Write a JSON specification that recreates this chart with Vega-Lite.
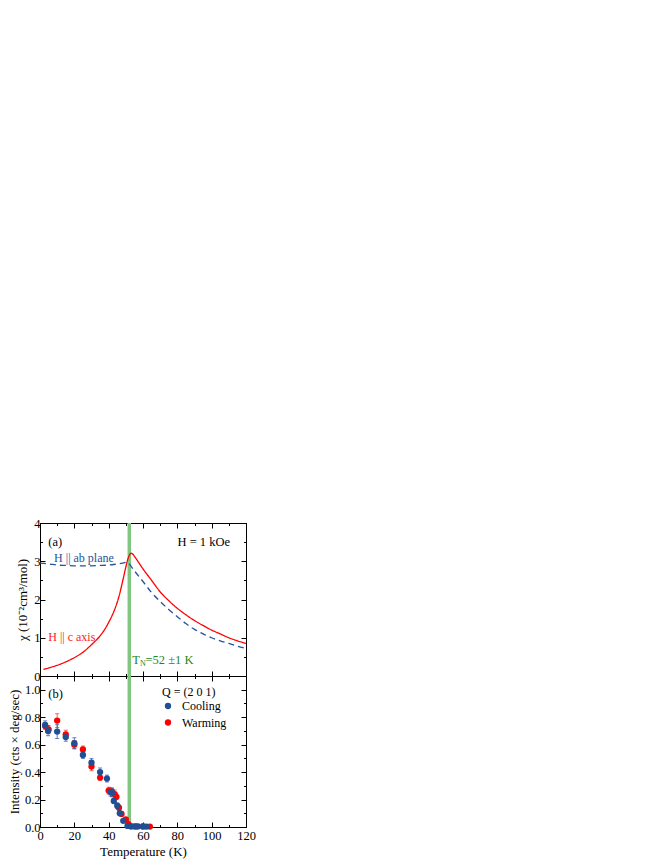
{
  "$schema": "https://vega.github.io/schema/vega-lite/v6.json",
  "background": "white",
  "padding": {"left": 7, "top": 516, "right": 5, "bottom": 0},
  "spacing": 0,
  "bounds": "flush",
  "resolve": {"scale": {"color": "independent", "strokeDash": "independent"}, "legend": {"color": "independent", "strokeDash": "independent"}},
  "config": {
    "font": "Liberation Serif",
    "view": {"stroke": "black", "strokeWidth": 1},
    "axis": {
      "domainColor": "black", "tickColor": "black", "labelColor": "black", "titleColor": "black",
      "labelFontSize": 12.5, "titleFontSize": 13, "titleFontWeight": "normal",
      "grid": false, "labelOverlap": false, "labelFlush": false, "labelBound": false,
      "domainWidth": 1, "tickWidth": 1
    },
    "legend": {"titleFontWeight": "normal"}
  },
  "datasets": {
    "chi": [
      {"T": 2, "chi": 0.17, "dir": "c"}, {"T": 5, "chi": 0.21, "dir": "c"}, {"T": 10, "chi": 0.28, "dir": "c"},
      {"T": 15, "chi": 0.37, "dir": "c"}, {"T": 20, "chi": 0.48, "dir": "c"}, {"T": 25, "chi": 0.62, "dir": "c"},
      {"T": 30, "chi": 0.82, "dir": "c"}, {"T": 35, "chi": 1.05, "dir": "c"}, {"T": 38, "chi": 1.24, "dir": "c"},
      {"T": 40, "chi": 1.4, "dir": "c"}, {"T": 42, "chi": 1.58, "dir": "c"}, {"T": 44, "chi": 1.8, "dir": "c"},
      {"T": 46, "chi": 2.08, "dir": "c"}, {"T": 48, "chi": 2.45, "dir": "c"}, {"T": 50, "chi": 2.85, "dir": "c"},
      {"T": 51, "chi": 3.03, "dir": "c"}, {"T": 52, "chi": 3.15, "dir": "c"}, {"T": 53, "chi": 3.21, "dir": "c"},
      {"T": 54, "chi": 3.19, "dir": "c"}, {"T": 55, "chi": 3.13, "dir": "c"}, {"T": 57, "chi": 3.0, "dir": "c"},
      {"T": 60, "chi": 2.8, "dir": "c"}, {"T": 65, "chi": 2.5, "dir": "c"}, {"T": 70, "chi": 2.2, "dir": "c"},
      {"T": 75, "chi": 1.97, "dir": "c"}, {"T": 80, "chi": 1.77, "dir": "c"}, {"T": 85, "chi": 1.6, "dir": "c"},
      {"T": 90, "chi": 1.45, "dir": "c"}, {"T": 95, "chi": 1.32, "dir": "c"}, {"T": 100, "chi": 1.2, "dir": "c"},
      {"T": 105, "chi": 1.1, "dir": "c"}, {"T": 110, "chi": 1.0, "dir": "c"}, {"T": 115, "chi": 0.92, "dir": "c"},
      {"T": 120, "chi": 0.85, "dir": "c"},
      {"T": 0, "chi": 2.95, "dir": "ab"}, {"T": 5, "chi": 2.93, "dir": "ab"}, {"T": 10, "chi": 2.9, "dir": "ab"},
      {"T": 15, "chi": 2.89, "dir": "ab"}, {"T": 20, "chi": 2.88, "dir": "ab"}, {"T": 25, "chi": 2.88, "dir": "ab"},
      {"T": 30, "chi": 2.88, "dir": "ab"}, {"T": 35, "chi": 2.89, "dir": "ab"}, {"T": 40, "chi": 2.9, "dir": "ab"},
      {"T": 45, "chi": 2.93, "dir": "ab"}, {"T": 48, "chi": 2.95, "dir": "ab"}, {"T": 50, "chi": 2.97, "dir": "ab"},
      {"T": 51, "chi": 2.97, "dir": "ab"}, {"T": 52, "chi": 2.93, "dir": "ab"}, {"T": 53, "chi": 2.87, "dir": "ab"},
      {"T": 55, "chi": 2.75, "dir": "ab"}, {"T": 58, "chi": 2.58, "dir": "ab"}, {"T": 60, "chi": 2.47, "dir": "ab"},
      {"T": 65, "chi": 2.18, "dir": "ab"}, {"T": 70, "chi": 1.95, "dir": "ab"}, {"T": 75, "chi": 1.74, "dir": "ab"},
      {"T": 80, "chi": 1.55, "dir": "ab"}, {"T": 85, "chi": 1.37, "dir": "ab"}, {"T": 90, "chi": 1.22, "dir": "ab"},
      {"T": 95, "chi": 1.1, "dir": "ab"}, {"T": 100, "chi": 1.0, "dir": "ab"}, {"T": 105, "chi": 0.92, "dir": "ab"},
      {"T": 110, "chi": 0.85, "dir": "ab"}, {"T": 115, "chi": 0.78, "dir": "ab"}, {"T": 120, "chi": 0.72, "dir": "ab"}
    ],
    "neutron": [
      {"T": 3, "I": 0.735, "err": 0.02, "series": "Warming"},
      {"T": 5, "I": 0.71, "err": 0.03, "series": "Warming"},
      {"T": 10, "I": 0.775, "err": 0.05, "series": "Warming"},
      {"T": 15, "I": 0.675, "err": 0.03, "series": "Warming"},
      {"T": 20, "I": 0.6, "err": 0.03, "series": "Warming"},
      {"T": 25, "I": 0.565, "err": 0.025, "series": "Warming"},
      {"T": 30, "I": 0.44, "err": 0.03, "series": "Warming"},
      {"T": 35, "I": 0.36, "err": 0.02, "series": "Warming"},
      {"T": 40, "I": 0.265, "err": 0.025, "series": "Warming"},
      {"T": 42, "I": 0.255, "err": 0.03, "series": "Warming"},
      {"T": 43.5, "I": 0.24, "err": 0.03, "series": "Warming"},
      {"T": 44.5, "I": 0.22, "err": 0.02, "series": "Warming"},
      {"T": 46, "I": 0.14, "err": 0.02, "series": "Warming"},
      {"T": 47.5, "I": 0.095, "err": 0.015, "series": "Warming"},
      {"T": 50, "I": 0.055, "err": 0.01, "series": "Warming"},
      {"T": 51.5, "I": 0.02, "err": 0.008, "series": "Warming"},
      {"T": 53, "I": 0.005, "err": 0.005, "series": "Warming"},
      {"T": 56, "I": 0.004, "err": 0.004, "series": "Warming"},
      {"T": 60, "I": 0.004, "err": 0.004, "series": "Warming"},
      {"T": 64, "I": 0.003, "err": 0.003, "series": "Warming"},
      {"T": 3, "I": 0.743, "err": 0.03, "series": "Cooling"},
      {"T": 4.7, "I": 0.7, "err": 0.035, "series": "Cooling"},
      {"T": 10, "I": 0.695, "err": 0.05, "series": "Cooling"},
      {"T": 15, "I": 0.655, "err": 0.03, "series": "Cooling"},
      {"T": 20, "I": 0.61, "err": 0.04, "series": "Cooling"},
      {"T": 25, "I": 0.525, "err": 0.025, "series": "Cooling"},
      {"T": 30, "I": 0.468, "err": 0.03, "series": "Cooling"},
      {"T": 35, "I": 0.4, "err": 0.03, "series": "Cooling"},
      {"T": 39, "I": 0.353, "err": 0.025, "series": "Cooling"},
      {"T": 41, "I": 0.255, "err": 0.03, "series": "Cooling"},
      {"T": 42, "I": 0.25, "err": 0.03, "series": "Cooling"},
      {"T": 43, "I": 0.19, "err": 0.02, "series": "Cooling"},
      {"T": 45, "I": 0.155, "err": 0.02, "series": "Cooling"},
      {"T": 46.5, "I": 0.1, "err": 0.015, "series": "Cooling"},
      {"T": 48.5, "I": 0.045, "err": 0.01, "series": "Cooling"},
      {"T": 51, "I": 0.008, "err": 0.006, "series": "Cooling"},
      {"T": 53, "I": 0.005, "err": 0.005, "series": "Cooling"},
      {"T": 55, "I": 0.004, "err": 0.004, "series": "Cooling"},
      {"T": 57, "I": 0.004, "err": 0.004, "series": "Cooling"},
      {"T": 60, "I": 0.004, "err": 0.004, "series": "Cooling"},
      {"T": 62, "I": 0.003, "err": 0.003, "series": "Cooling"}
    ],
    "notesA": [
      {"tx": 4.8, "ty": 3.51, "label": "(a)", "kind": "black", "align": "left"},
      {"tx": 110.7, "ty": 3.51, "label": "H = 1 kOe", "kind": "black", "align": "right"},
      {"tx": 8.2, "ty": 3.09, "label": "H || ab plane", "kind": "blue", "align": "left"},
      {"tx": 4.8, "ty": 1.03, "label": "H || c axis", "kind": "red", "align": "left"},
      {"tx": 53.8, "ty": 0.42, "label": "T", "kind": "green", "align": "left"}
    ],
    "band": [{"T0": 51, "T1": 53}]
  },
  "vconcat": [
    {
      "width": 206,
      "height": 153,
      "resolve": {"axis": {"x": "independent", "y": "independent"}},
      "layer": [
        {
          "data": {"name": "band"},
          "mark": {"type": "rect", "color": "#80c680"},
          "encoding": {
            "x": {"field": "T0", "type": "quantitative", "scale": {"domain": [0, 120], "nice": false}, "axis": null},
            "x2": {"field": "T1"}
          }
        },
        {
          "data": {"name": "chi"},
          "mark": {"type": "line", "strokeWidth": 1.3, "interpolate": "monotone"},
          "encoding": {
            "x": {"field": "T", "type": "quantitative", "scale": {"domain": [0, 120], "nice": false},
              "axis": {"orient": "bottom", "title": null, "values": [0,10,20,30,40,50,60,70,80,90,100,110,120], "labels": false,
                "tickSize": {"condition": {"test": "datum.value % 20 === 0", "value": -5}, "value": -2.5}}},
            "y": {"field": "chi", "type": "quantitative", "scale": {"domain": [0, 4], "nice": false},
              "axis": {"orient": "left", "title": "χ (10⁻²cm³/mol)", "values": [0,0.5,1,1.5,2,2.5,3,3.5,4], "labelPadding": 5, "titlePadding": 4,
                "labelExpr": "datum.value % 1 === 0 ? format(datum.value, 'd') : ''",
                "tickSize": {"condition": {"test": "datum.value % 1 === 0", "value": -5}, "value": -2.5}}},
            "color": {"field": "dir", "type": "nominal", "scale": {"domain": ["c", "ab"], "range": ["#ff0000", "#25539e"]}, "legend": null},
            "strokeDash": {"field": "dir", "type": "nominal", "scale": {"domain": ["c", "ab"], "range": [[1, 0], [6, 4]]}, "legend": null}
          }
        },
        {
          "data": {"name": "chi"},
          "mark": {"type": "point", "opacity": 0},
          "encoding": {
            "x": {"field": "T", "type": "quantitative",
              "axis": {"orient": "top", "title": null, "values": [0,10,20,30,40,50,60,70,80,90,100,110,120], "labels": false,
                "tickSize": {"condition": {"test": "datum.value % 20 === 0", "value": -5}, "value": -2.5}}},
            "y": {"field": "chi", "type": "quantitative",
              "axis": {"orient": "right", "title": null, "values": [0,0.5,1,1.5,2,2.5,3,3.5,4], "labels": false,
                "tickSize": {"condition": {"test": "datum.value % 1 === 0", "value": -5}, "value": -2.5}}}
          }
        },
        {
          "data": {"name": "notesA"},
          "transform": [{"filter": "datum.kind === 'black' && datum.align === 'left'"}],
          "mark": {"type": "text", "align": "left", "baseline": "middle", "fontSize": 12.5, "color": "black"},
          "encoding": {
            "x": {"field": "tx", "type": "quantitative", "axis": null},
            "y": {"field": "ty", "type": "quantitative", "axis": null},
            "text": {"field": "label"}
          }
        },
        {
          "data": {"name": "notesA"},
          "transform": [{"filter": "datum.kind === 'black' && datum.align === 'right'"}],
          "mark": {"type": "text", "align": "right", "baseline": "middle", "fontSize": 12.5, "color": "black"},
          "encoding": {
            "x": {"field": "tx", "type": "quantitative", "axis": null},
            "y": {"field": "ty", "type": "quantitative", "axis": null},
            "text": {"field": "label"}
          }
        },
        {
          "data": {"name": "notesA"},
          "transform": [{"filter": "datum.kind === 'blue'"}],
          "mark": {"type": "text", "align": "left", "baseline": "middle", "fontSize": 12, "color": "#25539e"},
          "encoding": {
            "x": {"field": "tx", "type": "quantitative", "axis": null},
            "y": {"field": "ty", "type": "quantitative", "axis": null},
            "text": {"field": "label"}
          }
        },
        {
          "data": {"name": "notesA"},
          "transform": [{"filter": "datum.kind === 'red'"}],
          "mark": {"type": "text", "align": "left", "baseline": "middle", "fontSize": 12, "color": "#ff1a1a"},
          "encoding": {
            "x": {"field": "tx", "type": "quantitative", "axis": null},
            "y": {"field": "ty", "type": "quantitative", "axis": null},
            "text": {"field": "label"}
          }
        },
        {
          "data": {"name": "notesA"},
          "transform": [{"filter": "datum.kind === 'green'"}],
          "mark": {"type": "text", "align": "left", "baseline": "middle", "fontSize": 12.5, "color": "#22882a"},
          "encoding": {
            "x": {"field": "tx", "type": "quantitative", "axis": null},
            "y": {"field": "ty", "type": "quantitative", "axis": null},
            "text": {"field": "label"}
          }
        },
        {
          "data": {"name": "notesA"},
          "transform": [{"filter": "datum.kind === 'green'"}],
          "mark": {"type": "text", "align": "left", "baseline": "middle", "fontSize": 8, "dx": 7.6, "dy": 4, "color": "#22882a"},
          "encoding": {
            "x": {"field": "tx", "type": "quantitative", "axis": null},
            "y": {"field": "ty", "type": "quantitative", "axis": null},
            "text": {"value": "N"}
          }
        },
        {
          "data": {"name": "notesA"},
          "transform": [{"filter": "datum.kind === 'green'"}],
          "mark": {"type": "text", "align": "left", "baseline": "middle", "fontSize": 12.5, "dx": 13.2, "color": "#22882a"},
          "encoding": {
            "x": {"field": "tx", "type": "quantitative", "axis": null},
            "y": {"field": "ty", "type": "quantitative", "axis": null},
            "text": {"value": "=52 ±1 K"}
          }
        }
      ]
    },
    {
      "width": 206,
      "height": 151,
      "resolve": {"axis": {"x": "independent", "y": "independent"}},
      "layer": [
        {
          "data": {"name": "band"},
          "mark": {"type": "rect", "color": "#80c680"},
          "encoding": {
            "x": {"field": "T0", "type": "quantitative", "scale": {"domain": [0, 120], "nice": false}, "axis": null},
            "x2": {"field": "T1"}
          }
        },
        {
          "data": {"name": "neutron"},
          "transform": [{"filter": "datum.series === 'Warming'"}],
          "mark": {"type": "errorbar", "color": "#ff3030", "ticks": {"size": 4, "opacity": 0.75}, "rule": {"opacity": 0.75}},
          "encoding": {
            "x": {"field": "T", "type": "quantitative", "axis": null},
            "y": {"field": "I", "type": "quantitative", "scale": {"domain": [0, 1.1], "nice": false}, "axis": null},
            "yError": {"field": "err"}
          }
        },
        {
          "data": {"name": "neutron"},
          "transform": [{"filter": "datum.series === 'Cooling'"}],
          "mark": {"type": "errorbar", "color": "#2a5aa6", "ticks": {"size": 4, "opacity": 0.75}, "rule": {"opacity": 0.75}},
          "encoding": {
            "x": {"field": "T", "type": "quantitative", "axis": null},
            "y": {"field": "I", "type": "quantitative", "axis": null},
            "yError": {"field": "err"}
          }
        },
        {
          "data": {"name": "neutron"},
          "mark": {"type": "point", "filled": true, "opacity": 1, "size": 40, "shape": "circle"},
          "encoding": {
            "x": {"field": "T", "type": "quantitative", "scale": {"domain": [0, 120], "nice": false},
              "axis": {"orient": "bottom", "title": "Temperature (K)", "values": [0,10,20,30,40,50,60,70,80,90,100,110,120],
                "labelPadding": 7, "titlePadding": 1,
                "labelExpr": "datum.value % 20 === 0 ? datum.label : ''",
                "tickSize": {"condition": {"test": "datum.value % 20 === 0", "value": -5}, "value": -2.5}}},
            "y": {"field": "I", "type": "quantitative", "scale": {"domain": [0, 1.1], "nice": false},
              "axis": {"orient": "left", "title": "Intensity (cts × deg/sec)", "values": [0,0.1,0.2,0.3,0.4,0.5,0.6,0.7,0.8,0.9,1.0,1.1],
                "labelPadding": 5, "titlePadding": 3,
                "labelExpr": "abs(datum.value*5 - round(datum.value*5)) < 0.001 ? format(datum.value, '.1f') : ''",
                "tickSize": {"condition": {"test": "abs(datum.value*5 - round(datum.value*5)) < 0.001", "value": -5}, "value": -2.5}}},
            "color": {"field": "series", "type": "nominal", "scale": {"domain": ["Cooling", "Warming"], "range": ["#204f94", "#ff0000"]},
              "legend": {"title": "Q = (2 0 1)", "orient": "none", "legendX": 122, "legendY": 11, "padding": 0,
                "titleFontSize": 12, "titleFontWeight": "normal", "titleColor": "black", "titlePadding": 1,
                "labelFontSize": 12, "labelColor": "black", "labelOffset": 8, "symbolOffset": 0,
                "symbolType": "circle", "symbolSize": 40, "symbolStrokeWidth": 0, "rowPadding": 4.5}}
          }
        },
        {
          "data": {"name": "neutron"},
          "mark": {"type": "point", "opacity": 0},
          "encoding": {
            "x": {"field": "T", "type": "quantitative",
              "axis": {"orient": "top", "title": null, "values": [0,10,20,30,40,50,60,70,80,90,100,110,120], "labels": false,
                "tickSize": {"condition": {"test": "datum.value % 20 === 0", "value": -5}, "value": -2.5}}},
            "y": {"field": "I", "type": "quantitative",
              "axis": {"orient": "right", "title": null, "values": [0,0.1,0.2,0.3,0.4,0.5,0.6,0.7,0.8,0.9,1.0,1.1], "labels": false,
                "tickSize": {"condition": {"test": "abs(datum.value*5 - round(datum.value*5)) < 0.001", "value": -5}, "value": -2.5}}}
          }
        },
        {
          "data": {"values": [{"tx": 4.8, "ty": 0.967, "label": "(b)"}]},
          "mark": {"type": "text", "align": "left", "baseline": "middle", "fontSize": 12.5, "color": "black"},
          "encoding": {
            "x": {"field": "tx", "type": "quantitative", "axis": null},
            "y": {"field": "ty", "type": "quantitative", "axis": null},
            "text": {"field": "label"}
          }
        }
      ]
    }
  ]
}
